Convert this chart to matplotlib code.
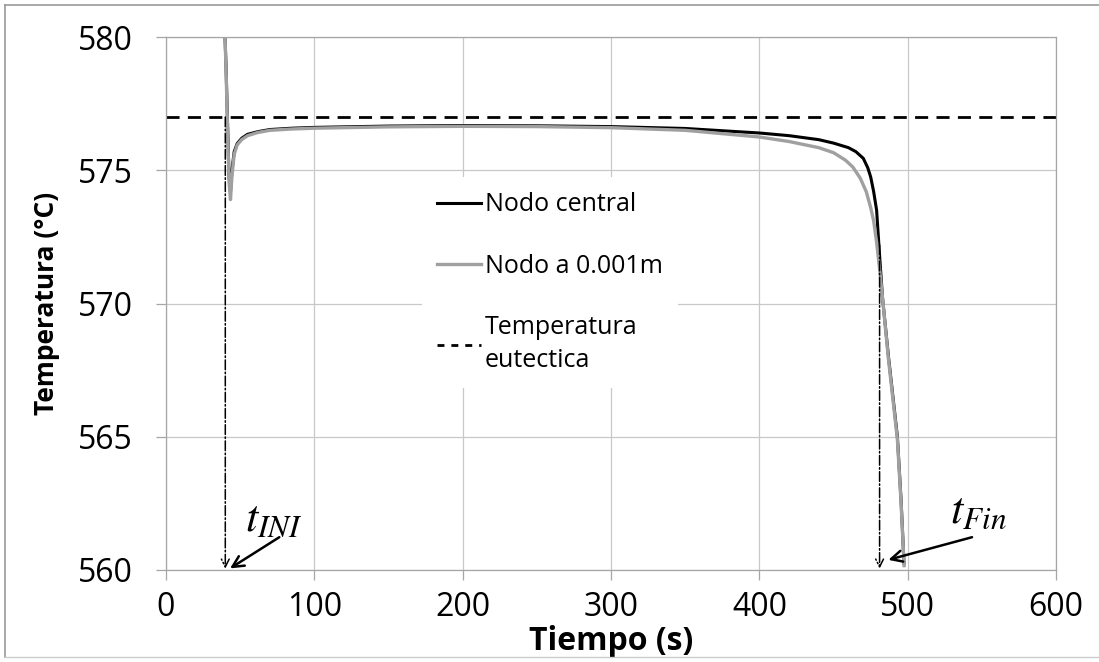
import matplotlib
matplotlib.use("Agg")
import matplotlib.pyplot as plt
from matplotlib.lines import Line2D

plt.rcParams['font.family'] = ['Open Sans', 'DejaVu Sans']
plt.rcParams['mathtext.fontset'] = 'stix'

# data
t_gray = [39.5, 40.5, 41.5, 42.5, 43.5, 44.5, 46, 48, 51, 55, 62, 70, 85, 100, 150, 200, 250, 300,
          350, 400, 420, 440, 450, 458, 463, 468, 472, 475, 477, 479, 481, 483, 487, 491, 493, 495.5, 497.6]
T_gray = [580.5, 578.8, 576.6, 574.6, 573.9, 574.8, 575.6, 575.95, 576.15, 576.3, 576.42, 576.5, 576.55,
          576.58, 576.63, 576.65, 576.64, 576.6, 576.5, 576.25, 576.08, 575.85, 575.66, 575.38, 575.12,
          574.7, 574.2, 573.6, 573.1, 572.3, 571.3, 570.2, 567.9, 565.9, 564.9, 562.5, 560.1]

t_black = [39.5, 40.5, 41.5, 42.5, 43.5, 44.5, 46, 48, 51, 55, 62, 70, 85, 100, 150, 200, 250, 300,
           350, 400, 420, 440, 450, 460, 465, 470, 473, 475, 477, 479, 481, 483, 487, 491, 493, 495.5, 497.5]
T_black = [580.5, 578.9, 576.8, 574.8, 574.2, 575.0, 575.7, 576.0, 576.2, 576.35, 576.45, 576.53, 576.58,
           576.61, 576.66, 576.68, 576.67, 576.64, 576.57, 576.4, 576.3, 576.15, 576.02, 575.85, 575.7,
           575.45, 575.1, 574.75, 574.2, 573.5, 571.8, 570.2, 568.0, 566.0, 565.0, 562.6, 560.2]

T_eut = 577
t_ini = 40
t_fin = 481

xticks = [0, 100, 200, 300, 400, 500, 600]
yticks = [560, 565, 570, 575, 580]

fig = plt.figure(figsize=(10.99, 6.62), dpi=100)
ax = fig.add_axes([0.151, 0.139, 0.810, 0.805])

grid_c = '#a6a6a6'
ax.set_xlim(0, 600)
ax.set_ylim(560, 580)
ax.set_xticks(xticks)
ax.set_yticks(yticks)
ax.grid(True, color='#c8c8c8', lw=0.9)
ax.set_axisbelow(True)
for s in ax.spines.values():
    s.set_color(grid_c)
    s.set_linewidth(0.9)
ax.tick_params(axis='both', direction='out', length=7, width=0.9, color=grid_c, labelsize=23)
ax.tick_params(axis='y', pad=17)
ax.tick_params(axis='x', pad=8)

ax.axhline(T_eut, color='black', lw=2, dashes=(4.7, 3))
ax.plot(t_black, T_black, color='black', lw=2.2, solid_capstyle='butt')
ax.plot(t_gray, T_gray, color='#a0a0a0', lw=2.4, solid_capstyle='butt')

# vertical dash-dot arrows
ax.annotate('', xy=(t_ini, 560), xytext=(t_ini, T_eut),
            arrowprops=dict(arrowstyle='->', lw=1.1, ls='-.', color='black', mutation_scale=14,
                            shrinkA=0, shrinkB=1))
ax.annotate('', xy=(t_fin, 560), xytext=(t_fin, 572.2),
            arrowprops=dict(arrowstyle='->', lw=1.1, ls='-.', color='black', mutation_scale=14,
                            shrinkA=0, shrinkB=1))

# t_INI / t_Fin labels and their arrows
ax.text(53.5, 561.45, '$t_{INI}$', fontsize=32)
ax.annotate('', xy=(43.2, 560.06), xytext=(76.4, 561.23),
            arrowprops=dict(arrowstyle='->', lw=1.8, color='black', mutation_scale=20,
                            shrinkA=0, shrinkB=0))
ax.text(528.5, 561.75, '$t_{Fin}$', fontsize=32)
ax.annotate('', xy=(486.9, 560.38), xytext=(543.3, 561.23),
            arrowprops=dict(arrowstyle='->', lw=1.8, color='black', mutation_scale=20,
                            shrinkA=0, shrinkB=0))

ax.set_xlabel('Tiempo (s)', fontsize=23, fontweight='bold', labelpad=1)
ax.set_ylabel('Temperatura (°C)', fontsize=19, fontweight='bold', labelpad=13)

handles = [Line2D([], [], color='black', lw=2.2),
           Line2D([], [], color='#a0a0a0', lw=2.4),
           Line2D([], [], color='black', lw=2, dashes=(2.5, 2.5))]
labels = ['Nodo central', 'Nodo a 0.001m', 'Temperatura\neutectica']
leg = ax.legend(handles, labels, loc='upper left', bbox_to_anchor=(0.274, 0.76), fontsize=18,
                handlelength=1.75, handletextpad=0.16, labelspacing=1.45, borderpad=0.6,
                frameon=True, fancybox=False)
leg.get_frame().set_facecolor('white')
leg.get_frame().set_edgecolor('none')
leg.get_frame().set_alpha(1)
leg.get_texts()[2].set_linespacing(1.4)

# outer frame of the picture
fig.add_artist(Line2D([0.005, 0.005], [0.008, 0.992], color='#999999', lw=1.2))
fig.add_artist(Line2D([0.005, 1.0], [0.992, 0.992], color='#999999', lw=1.2))
fig.add_artist(Line2D([0.005, 1.0], [0.008, 0.008], color='#cccccc', lw=1))

fig.savefig('out.png', dpi=100)
